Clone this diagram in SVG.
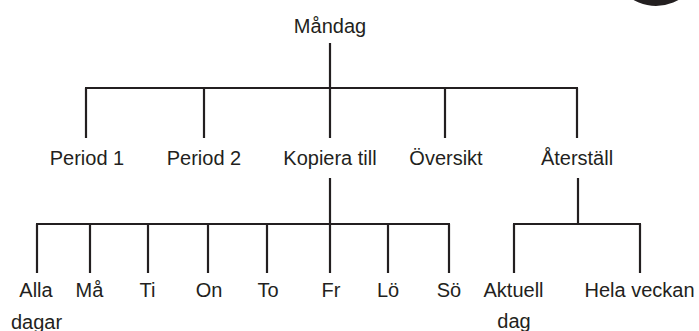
<svg xmlns="http://www.w3.org/2000/svg" width="699" height="331" viewBox="0 0 699 331">
<style>
text{font-family:"Liberation Sans",Arial,sans-serif;font-size:20px;fill:#231f20;text-anchor:middle}
.c line{stroke:#231f20;stroke-width:2.2;fill:none}
</style>
<rect width="699" height="331" fill="#ffffff"/>
<circle cx="656" cy="-39" r="45" fill="#231f20"/>
<g class="c" id="connectors">
<line x1="330" y1="43" x2="330" y2="88"/>
<line x1="85" y1="88" x2="578" y2="88"/>
<line x1="86" y1="88" x2="86" y2="138"/>
<line x1="204" y1="88" x2="204" y2="138"/>
<line x1="330" y1="88" x2="330" y2="138"/>
<line x1="445" y1="88" x2="445" y2="138"/>
<line x1="577" y1="88" x2="577" y2="138"/>
<line x1="330" y1="178" x2="330" y2="224"/>
<line x1="36" y1="224" x2="450" y2="224"/>
<line x1="37" y1="224" x2="37" y2="273"/>
<line x1="90" y1="224" x2="90" y2="273"/>
<line x1="148" y1="224" x2="148" y2="273"/>
<line x1="208" y1="224" x2="208" y2="273"/>
<line x1="267" y1="224" x2="267" y2="273"/>
<line x1="330" y1="224" x2="330" y2="273"/>
<line x1="388" y1="224" x2="388" y2="273"/>
<line x1="449" y1="224" x2="449" y2="273"/>
<line x1="578" y1="178" x2="578" y2="224"/>
<line x1="513" y1="224" x2="641" y2="224"/>
<line x1="514" y1="224" x2="514" y2="273"/>
<line x1="640" y1="224" x2="640" y2="273"/>
</g>
<g id="mandag"><text x="330" y="33">Måndag</text></g>
<g id="period1"><text x="87" y="165">Period 1</text></g>
<g id="period2"><text x="204" y="165">Period 2</text></g>
<g id="kopiera"><text x="330" y="165">Kopiera till</text></g>
<g id="oversikt"><text x="446" y="165">Översikt</text></g>
<g id="aterstall"><text x="577" y="165">Återställ</text></g>
<g id="alla"><text x="36" y="297">Alla</text><text x="36.5" y="329">dagar</text></g>
<g id="ma"><text x="89.5" y="297">Må</text></g>
<g id="ti"><text x="147.5" y="297">Ti</text></g>
<g id="on"><text x="209" y="297">On</text></g>
<g id="to"><text x="268" y="297">To</text></g>
<g id="fr"><text x="331" y="297">Fr</text></g>
<g id="lo"><text x="388" y="297">Lö</text></g>
<g id="so"><text x="449" y="297">Sö</text></g>
<g id="aktuell"><text x="513.5" y="297">Aktuell</text><text x="514" y="328">dag</text></g>
<g id="hela"><text x="639.5" y="297">Hela veckan</text></g>
</svg>
